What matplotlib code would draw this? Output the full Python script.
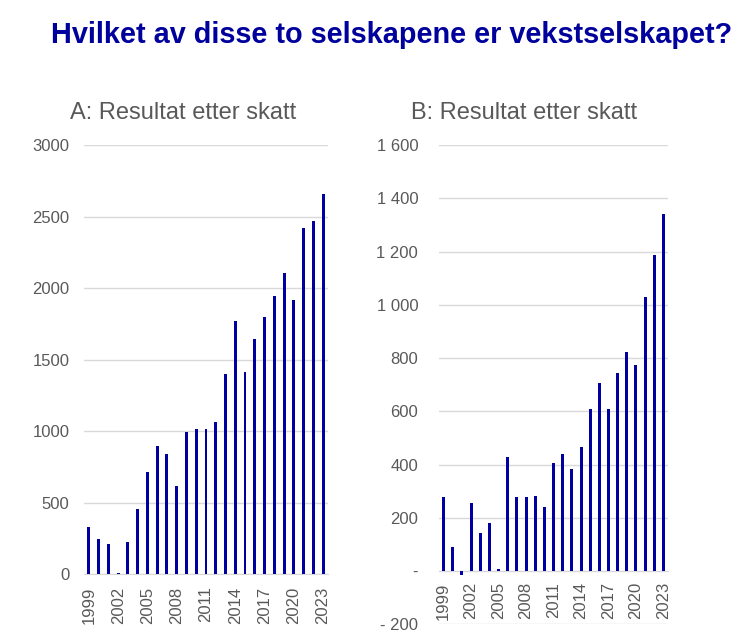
import matplotlib
matplotlib.use("Agg")
import matplotlib.pyplot as plt
import numpy as np

plt.rcParams['font.family'] = ['Liberation Sans', 'DejaVu Sans']

# years on the x axis
years = list(range(1999, 2024))

# A: Resultat etter skatt
result_a = [331, 247, 212, 9, 221, 457, 715, 897, 841, 617, 995, 1016, 1016, 1065,
            1396, 1771, 1415, 1645, 1799, 1946, 2106, 1917, 2421, 2472, 2658]

# B: Resultat etter skatt
result_b = [278, 90, -15, 255, 143, 180, 8, 428, 278, 278, 282, 240, 406, 439,
            383, 466, 608, 706, 608, 744, 824, 774, 1029, 1187, 1341]

ticks_a = [0, 500, 1000, 1500, 2000, 2500, 3000]
tick_labels_a = ["0", "500", "1000", "1500", "2000", "2500", "3000"]
ticks_b = [-200, 0, 200, 400, 600, 800, 1000, 1200, 1400, 1600]
tick_labels_b = ["- 200", "-", "200", "400", "600", "800", "1 000", "1 200", "1 400", "1 600"]

bar_color = "#0000A0"
grid_color = "#D9D9D9"
text_color = "#595959"

fig = plt.figure(figsize=(7.38, 6.4), dpi=100)

# main title
fig.text(0.531, 0.946, "Hvilket av disse to selskapene er vekstselskapet?",
         ha="center", va="center", fontsize=20.8, fontweight="bold", color="#00009C")


def draw_panel(ax, values, ticks, tick_labels, title, title_x, ypad, xpad, bw):
    x = np.arange(len(years))
    ax.bar(x, values, width=bw, color=bar_color, zorder=3)
    ax.set_xlim(-0.5, len(years) - 0.5)
    ax.set_ylim(ticks[0], ticks[-1])
    ax.set_yticks(ticks)
    ax.set_yticklabels(tick_labels)
    ax.yaxis.grid(True, color=grid_color, linewidth=1)
    ax.set_axisbelow(True)
    for s in ["top", "right", "left"]:
        ax.spines[s].set_visible(False)
    ax.spines["bottom"].set_position(("data", 0))
    ax.spines["bottom"].set_color(grid_color)
    ax.spines["bottom"].set_zorder(2)
    ax.set_xticks(x[::3])
    ax.set_xticklabels([str(y) for y in years[::3]], rotation=90)
    ax.tick_params(axis="both", length=0, colors=text_color, labelsize=12)
    ax.tick_params(axis="y", pad=ypad)
    ax.tick_params(axis="x", pad=xpad)
    fig.text(title_x, 0.823, title, ha="center", va="center", fontsize=17, color=text_color)


ax_a = fig.add_axes([0.1138, 0.1031, 0.3306, 0.6703])
draw_panel(ax_a, result_a, ticks_a, tick_labels_a, "A: Resultat etter skatt", 0.248,
           ypad=10.5, xpad=9, bw=0.3)

ax_b = fig.add_axes([0.5949, 0.0245, 0.3103, 0.7489])
draw_panel(ax_b, result_b, ticks_b, tick_labels_b, "B: Resultat etter skatt", 0.710,
           ypad=15, xpad=8, bw=0.33)

fig.savefig("out.png", dpi=100)
